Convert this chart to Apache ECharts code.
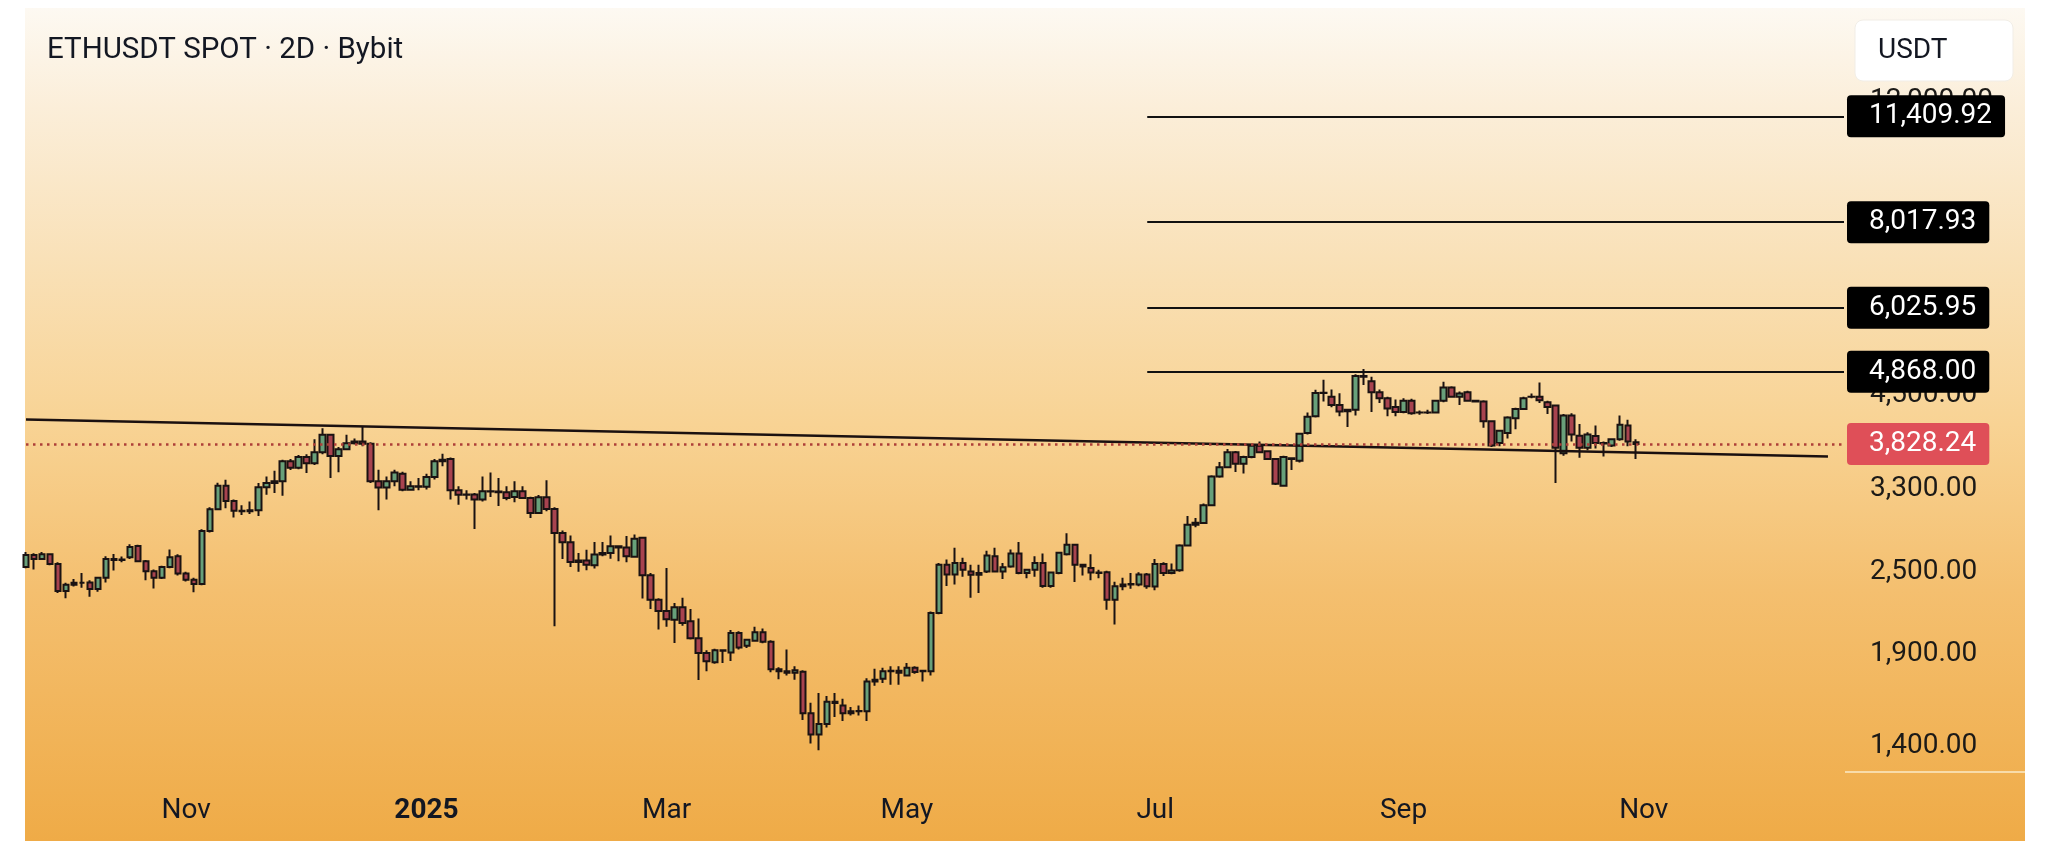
<!DOCTYPE html>
<html>
<head>
<meta charset="utf-8">
<title>ETHUSDT SPOT 2D</title>
<script src="https://cdn.jsdelivr.net/npm/echarts@6.0.0/dist/echarts.min.js"></script>
<style>
  html, body { margin: 0; padding: 0; background: #ffffff; }
  #bg {
    position: absolute; left: 25px; top: 8px; width: 2000px; height: 833px;
    background: linear-gradient(to bottom, #fdf9f2 0%, #fbeed9 12%, #f9e1b8 30%, #f8d394 50%, #f4bf6f 70%, #efab47 100%);
  }
  #chart { position: absolute; left: 0; top: 0; width: 2048px; height: 841px; }
</style>
</head>
<body>
<div id="bg"></div>
<div id="chart"></div>
<script>
// 2D candles, first candle starts 2024-09-23
const firstDay = '2024-09-23';
const totalSlots = 228;   // candles plus empty space on the right

const opens = [
  2540, 2645, 2610, 2650, 2565, 2345, 2395, 2410, 2413, 2360,
  2450, 2610, 2600, 2625, 2725, 2590, 2505, 2450, 2540, 2634,
  2485, 2435, 2400, 2865, 3080, 3330, 3165, 3065, 3060, 3070,
  3313, 3360, 3380, 3613, 3535, 3665, 3590, 3723, 3946, 3678,
  3760, 3837, 3860, 3830, 3380, 3310, 3380, 3466, 3287, 3324,
  3320, 3429, 3613, 3640, 3280, 3232, 3235, 3180, 3270, 3268,
  3258, 3207, 3270, 3197, 3041, 3205, 3082, 2845, 2759, 2584,
  2597, 2555, 2648, 2662, 2722, 2712, 2628, 2801, 2472, 2278,
  2194, 2131, 2222, 2120, 2004, 1907, 1849, 1924, 1911, 2039,
  1954, 1987, 2044, 1980, 1806, 1795, 1786, 1792, 1560, 1454,
  1505, 1621, 1601, 1560, 1571, 1571, 1734, 1750, 1795, 1797,
  1770, 1815, 1795, 1795, 2179, 2560, 2478, 2574, 2503, 2475,
  2503, 2634, 2503, 2545, 2658, 2490, 2517, 2574, 2384, 2490,
  2650, 2737, 2560, 2531, 2495, 2496, 2278, 2383, 2397, 2397,
  2478, 2381, 2566, 2490, 2512, 2728, 2925, 2942, 3121, 3435,
  3541, 3723, 3585, 3664, 3806, 3735, 3640, 3331, 3650, 3620,
  3970, 4200, 4537, 4480, 4358, 4270, 4290, 4800, 4720, 4550,
  4460, 4330, 4260, 4420, 4250, 4252, 4250, 4420, 4620, 4480,
  4550, 4420, 4410, 4130, 3840, 3970, 4170, 4300, 4480, 4480,
  4400, 4350, 3710, 4210, 3935, 3780, 3930, 3840, 3810, 3890,
  4070, 3850
];
const closes = [
  2645, 2610, 2650, 2565, 2345, 2395, 2410, 2410, 2360, 2450,
  2610, 2600, 2605, 2716, 2590, 2505, 2450, 2540, 2625, 2485,
  2435, 2400, 2865, 3080, 3330, 3165, 3065, 3060, 3070, 3313,
  3360, 3380, 3613, 3535, 3665, 3590, 3723, 3946, 3678, 3760,
  3837, 3860, 3830, 3380, 3310, 3380, 3481, 3287, 3324, 3320,
  3429, 3613, 3632, 3280, 3232, 3235, 3180, 3270, 3268, 3258,
  3197, 3270, 3197, 3041, 3205, 3082, 2845, 2759, 2584, 2597,
  2560, 2648, 2662, 2722, 2712, 2634, 2792, 2472, 2278, 2194,
  2135, 2222, 2108, 2004, 1907, 1855, 1924, 1922, 2039, 1943,
  1993, 2044, 1980, 1806, 1795, 1786, 1800, 1560, 1454, 1505,
  1621, 1614, 1560, 1571, 1572, 1734, 1745, 1795, 1797, 1786,
  1815, 1790, 1797, 2179, 2560, 2478, 2574, 2517, 2475, 2490,
  2640, 2503, 2538, 2658, 2490, 2517, 2574, 2384, 2495, 2664,
  2737, 2560, 2545, 2495, 2490, 2278, 2383, 2397, 2400, 2478,
  2383, 2566, 2490, 2510, 2728, 2925, 2945, 3121, 3435, 3541,
  3723, 3585, 3666, 3806, 3723, 3640, 3353, 3664, 3640, 3960,
  4191, 4537, 4540, 4358, 4265, 4290, 4800, 4790, 4550, 4460,
  4310, 4260, 4420, 4240, 4252, 4250, 4420, 4620, 4480, 4530,
  4420, 4410, 4130, 3810, 4000, 4180, 4300, 4460, 4482, 4430,
  4330, 3780, 4210, 3950, 3780, 3950, 3840, 3835, 3890, 4080,
  3860, 3828.24
];
const lows = [
  2530, 2520, 2600, 2555, 2330, 2290, 2380, 2370, 2300, 2340,
  2412, 2511, 2580, 2610, 2580, 2430, 2365, 2440, 2530, 2470,
  2420, 2335, 2390, 2850, 3070, 3091, 2995, 3020, 3030, 3010,
  3232, 3251, 3221, 3510, 3520, 3475, 3570, 3700, 3417, 3485,
  3750, 3820, 3800, 3360, 3070, 3180, 3325, 3270, 3280, 3280,
  3290, 3400, 3555, 3180, 3127, 3180, 2884, 3160, 3207, 3114,
  3173, 3152, 3190, 2991, 3030, 3060, 2085, 2609, 2541, 2500,
  2513, 2527, 2634, 2611, 2589, 2580, 2620, 2288, 2208, 2062,
  2081, 1972, 2089, 1995, 1743, 1795, 1840, 1845, 1857, 1930,
  1940, 1980, 1970, 1788, 1747, 1770, 1745, 1525, 1411, 1379,
  1488, 1541, 1520, 1549, 1549, 1520, 1710, 1726, 1716, 1716,
  1765, 1780, 1734, 1770, 2170, 2384, 2397, 2459, 2292, 2329,
  2490, 2495, 2441, 2535, 2480, 2447, 2459, 2370, 2370, 2480,
  2640, 2416, 2469, 2431, 2447, 2203, 2098, 2350, 2363, 2383,
  2363, 2350, 2465, 2480, 2500, 2720, 2900, 2935, 3110, 3420,
  3530, 3488, 3470, 3650, 3710, 3630, 3340, 3320, 3510, 3600,
  3950, 4180, 4410, 4327, 4200, 4050, 4210, 4660, 4260, 4390,
  4200, 4200, 4240, 4220, 4220, 4230, 4240, 4400, 4470, 4360,
  4410, 4400, 4040, 3790, 3800, 3900, 4020, 4290, 4460, 4390,
  4230, 3360, 3680, 3860, 3655, 3750, 3772, 3670, 3790, 3870,
  3800, 3640
];
const highs = [
  2670, 2660, 2670, 2660, 2580, 2410, 2440, 2490, 2430, 2460,
  2632, 2652, 2630, 2740, 2735, 2600, 2520, 2550, 2694, 2650,
  2500, 2450, 2880, 3100, 3365, 3398, 3180, 3120, 3160, 3361,
  3436, 3500, 3632, 3640, 3690, 3700, 3889, 4034, 3960, 3790,
  3946, 3900, 4055, 3850, 3512, 3436, 3512, 3490, 3380, 3417,
  3466, 3640, 3706, 3660, 3324, 3280, 3250, 3436, 3482, 3417,
  3324, 3380, 3324, 3210, 3230, 3391, 3100, 2870, 2822, 2662,
  2691, 2760, 2760, 2822, 2725, 2816, 2830, 2810, 2490, 2290,
  2531, 2253, 2292, 2208, 2139, 1925, 1935, 1928, 2060, 2050,
  2000, 2081, 2070, 1990, 1819, 1930, 1825, 1800, 1616, 1669,
  1652, 1669, 1638, 1593, 1601, 1753, 1810, 1815, 1825, 1825,
  1845, 1825, 1800, 2190, 2574, 2605, 2709, 2619, 2560, 2560,
  2682, 2709, 2574, 2694, 2761, 2520, 2634, 2658, 2500, 2670,
  2843, 2745, 2565, 2650, 2517, 2509, 2418, 2451, 2490, 2497,
  2490, 2610, 2580, 2570, 2740, 3011, 2990, 3140, 3450, 3606,
  3764, 3740, 3680, 3815, 3860, 3750, 3650, 3680, 3655, 3970,
  4253, 4588, 4741, 4590, 4535, 4300, 4830, 4915, 4790, 4590,
  4480, 4440, 4460, 4450, 4280, 4290, 4430, 4710, 4640, 4560,
  4570, 4430, 4430, 4140, 4010, 4200, 4320, 4480, 4530, 4700,
  4420, 4360, 4230, 4240, 4090, 3980, 4070, 3860, 3900, 4210,
  4150, 3890
];

// price scale labels and drawn levels
const priceTicks = [1400, 1900, 2500, 3300, 4500, 12000];
const levelPrices = [4868.00, 6025.95, 8017.93, 11409.92];
const lastPrice = 3828.24;
const trendStart = 4155;   // at first candle
const trendEnd = 3673;     // at slot 225
const levelStartSlot = 140;

const monthNames = ['Jan','Feb','Mar','Apr','May','Jun','Jul','Aug','Sep','Oct','Nov','Dec'];

// slot dates (every 2 days)
const dates = [];
const d0 = new Date(firstDay + 'T00:00:00Z');
for (let i = 0; i < totalSlots; i++) {
    const d = new Date(d0.getTime() + i * 2 * 86400000);
    dates.push(d.toISOString().slice(0, 10));
}

const candles = opens.map((o, i) => [o, closes[i], lows[i], highs[i]]);

const fmt = v => v.toLocaleString('en-US', { minimumFractionDigits: 2, maximumFractionDigits: 2 });

const showMonth = (i) => {
    if (i === 0) return false;
    const m = +dates[i].slice(5, 7);
    const mp = +dates[i - 1].slice(5, 7);
    return m !== mp && m % 2 === 1;
};

const boxLabel = (bg, txt) => ({
    show: true,
    position: 'end',
    distance: 3,
    formatter: txt,
    color: '#ffffff',
    backgroundColor: bg,
    borderRadius: 4,
    padding: [7, 13, 7, 22],
    fontSize: 28,
    lineHeight: 28,
    fontFamily: 'Roboto'
});

const levelLines = levelPrices.map(p => [
    { coord: [dates[levelStartSlot], p], lineStyle: { color: '#111111', width: 2, type: 'solid' }, label: boxLabel('#000000', fmt(p)) },
    { coord: [dates[totalSlots - 1], p] }
]);

const chart = echarts.init(document.getElementById('chart'));

chart.setOption({
    backgroundColor: 'transparent',
    animation: false,
    title: {
        text: 'ETHUSDT SPOT · 2D · Bybit',
        left: 42,
        top: 31,
        textStyle: { fontSize: 29.5, fontWeight: 'normal', color: '#131722', fontFamily: 'Roboto' }
    },
    grid: { left: 26, right: 204, top: 13, bottom: 66, containLabel: false, outerBoundsMode: 'none' },
    xAxis: {
        type: 'category',
        data: dates,
        boundaryGap: false,
        axisLine: { show: false },
        axisTick: { show: false },
        splitLine: { show: false },
        axisLabel: {
            interval: (i) => showMonth(i),
            margin: 22,
            fontSize: 28,
            color: '#131722',
            fontFamily: 'Roboto',
            formatter: (v) => {
                const m = +v.slice(5, 7);
                if (m === 1) return '{y|' + v.slice(0, 4) + '}';
                return monthNames[m - 1];
            },
            rich: { y: { fontWeight: 'bold', fontSize: 28, color: '#131722', fontFamily: 'Roboto' } }
        }
    },
    yAxis: {
        type: 'log',
        position: 'right',
        min: 1270,
        max: 16100,
        axisLine: { show: false },
        axisTick: { show: false },
        splitLine: { show: false },
        axisLabel: {
            customValues: priceTicks,
            formatter: (v) => fmt(v),
            margin: 26,
            fontSize: 28,
            color: '#1c1a17',
            fontFamily: 'Roboto'
        }
    },
    series: [{
        type: 'candlestick',
        data: candles,
        barWidth: 6,
        clip: true,
        itemStyle: {
            color: '#68a07a',
            color0: '#a8434f',
            borderColor: '#1a1212',
            borderColor0: '#1a1212',
            borderWidth: 2
        },
        markLine: {
            symbol: ['none', 'none'],
            silent: true,
            animation: false,
            data: [
                [
                    { coord: [dates[0], trendStart], lineStyle: { color: '#1a1010', width: 2.5, type: 'solid' }, label: { show: false } },
                    { coord: [dates[225], trendEnd] }
                ],
                [
                    { coord: [dates[0], lastPrice], lineStyle: { color: '#ad3f38', width: 2.5, type: [2.5, 4.5] }, label: boxLabel('#df4f58', fmt(lastPrice)) },
                    { coord: [dates[totalSlots - 1], lastPrice] }
                ]
            ].concat(levelLines)
        }
    }],
    graphic: [
        { type: 'rect', shape: { x: 1855, y: 20, width: 158, height: 61, r: 8 }, style: { fill: '#ffffff', stroke: '#f1ede6', lineWidth: 1 }, z: 10 },
        { type: 'text', x: 1878, y: 51, style: { text: 'USDT', fill: '#131722', font: '28px Roboto', align: 'left', verticalAlign: 'middle' }, z: 11 },
        { type: 'line', shape: { x1: 1845, y1: 772, x2: 2025, y2: 772 }, style: { stroke: '#f8dcaa', lineWidth: 2 }, z: 1 }
    ]
});
</script>
</body>
</html>
